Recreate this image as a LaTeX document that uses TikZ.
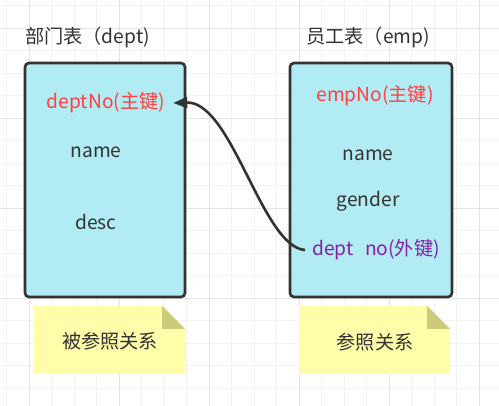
\documentclass[tikz,border=0pt]{standalone}
\usepackage{fontspec}
\setmainfont{Noto Sans CJK SC}
\usepackage{color}
\usetikzlibrary{arrows.meta,positioning}
\definecolor{boxfill}{HTML}{B1EBF3}
\definecolor{boxline}{HTML}{333333}
\definecolor{keyred}{HTML}{FF4040}
\definecolor{fkpurple}{HTML}{8420A8}
\definecolor{notefill}{HTML}{FFFCAA}
\definecolor{notefold}{HTML}{CCCB7A}
\definecolor{gridminor}{HTML}{F2F2F2}
\definecolor{gridmajor}{HTML}{E4E4E4}

\begin{document}
\begin{tikzpicture}[x=1pt,y=-1pt,>={Triangle[length=14pt,width=11pt]},
	font=\fontsize{19.2}{23}\selectfont,text=boxline,
	table/.style={rectangle,draw=boxline,fill=boxfill,line width=2.6pt,rounded corners=4pt,inner sep=0pt},
	field/.style={inner sep=0pt,anchor=center},
	title/.style={inner sep=0pt,anchor=west}]
	
	\useasboundingbox (0,0) rectangle (499,406);
	\fill[white] (0,0) rectangle (499,406);
	\foreach \k in {0,...,21}
		\draw[gridminor,line width=1pt] (6.8+22.5*\k,0) -- (6.8+22.5*\k,406);
	\foreach \k in {0,...,17}
		\draw[gridminor,line width=1pt] (0,5.8+22.5*\k) -- (499,5.8+22.5*\k);
	\foreach \k in {0,...,5}
		\draw[gridmajor,line width=1.2pt] (29.3+90*\k,0) -- (29.3+90*\k,406);
	\foreach \k in {0,...,3}
		\draw[gridmajor,line width=1.2pt] (0,28.3+90*\k) -- (499,28.3+90*\k);
	
	\node[title] (T1) at (25,37) {部门表（dept)};
	\node[title] (T2) at (306,37) {员工表（emp)};
	
	\node[table,minimum width=160pt,minimum height=234pt] (dept) at (105,180) {};
	\node[table,minimum width=162pt,minimum height=234pt] (emp) at (371,180) {};
	
	\node[field,text=keyred] (pk) at (106,103) {deptNo(主键)};
	\node[field] (dname) at (96,152) {name};
	\node[field] (desc) at (96,222) {desc};
	
	\node[field,text=keyred] (epk) at (375,96) {empNo(主键)};
	\node[field] (ename) at (368,155) {name};
	\node[field] (gender) at (368,201) {gender};
	\node[field,text=fkpurple] (fk) at (376,250) {dept\hspace{0.6em}no(外键)};
	
	\draw[->,boxline,line width=2.6pt] ([xshift=-7pt]fk.west) .. controls (262,247) and (232,101) .. ([xshift=8pt]pk.east);
	
	\fill[notefill] (34,306) -- (162,306) -- (185,329) -- (185,374) -- (34,374) -- cycle;
	\fill[notefold] (162,306) -- (185,329) -- (162,329) -- cycle;
	\node[field] (n1) at (110,341) {被参照关系};
	
	\fill[notefill] (299,306) -- (427,306) -- (450,329) -- (450,374) -- (299,374) -- cycle;
	\fill[notefold] (427,306) -- (450,329) -- (427,329) -- cycle;
	\node[field] (n2) at (375,342) {参照关系};
	
\end{tikzpicture}
\end{document}
